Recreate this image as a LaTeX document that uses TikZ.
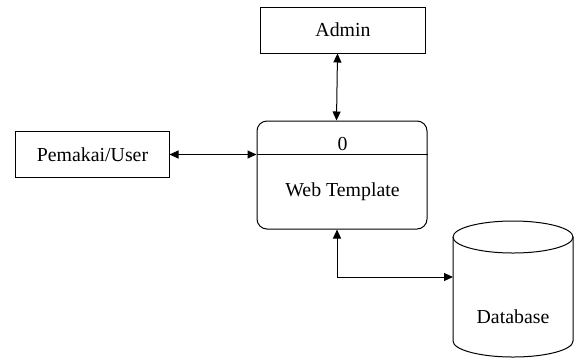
\documentclass[tikz,border=0pt]{standalone}
\usepackage{fontspec}
\setmainfont{Liberation Serif}
\usetikzlibrary{arrows.meta}
\begin{document}
\begin{tikzpicture}[x=1bp,y=-1bp,
  every node/.style={font=\fontsize{19.9}{23}\selectfont},
  ent/.style={draw,line width=1bp,inner sep=0pt},
  proc/.style={draw,line width=1bp,rounded corners=10bp,inner sep=0pt},
  flow/.style={line width=1bp,{Triangle[length=9bp,width=8bp]}-{Triangle[length=9bp,width=8bp]}},
  lbl/.style={inner sep=0pt,anchor=center}]
\useasboundingbox (0,0) rectangle (576,360);
% entities
\node[ent,minimum width=165bp,minimum height=46bp] (admin) at (343,30) {Admin};
\node[ent,minimum width=153bp,minimum height=46bp] (user) at (92.5,154.5) {Pemakai/User};
% process
\node[proc,minimum width=170bp,minimum height=108bp] (web) at (342,175) {};
\draw[line width=1bp] (257,154) coordinate (divl) -- (428,154) coordinate (divr);
\node[lbl] (num) at (342.5,143.5) {0};
\node[lbl] (wtl) at (342.5,191.5) {Web Template};
% database
\draw[line width=1bp] (453,237) -- (453,341) arc[start angle=180,end angle=360,x radius=60bp,y radius=16bp] -- (573,237);
\draw[line width=1bp] (513,237) ellipse[x radius=60bp,y radius=16bp];
\node[lbl] (db) at (513,317) {Database};
\coordinate (dbin) at (453,277);
% flows
\draw[flow] ([xshift=-5.5bp]admin.south) -- ([xshift=-5.5bp]web.north);
\draw[flow] (user.east) -- (web.west |- user.east);
\draw[flow] ([xshift=-5bp]web.south) |- (dbin);
\end{tikzpicture}
\end{document}
